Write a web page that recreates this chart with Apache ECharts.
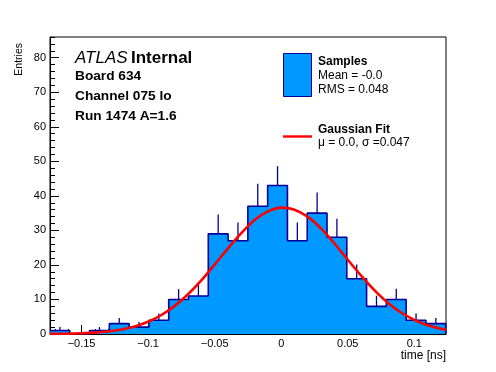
<!DOCTYPE html>
<html><head><meta charset="utf-8">
<script src="https://cdn.jsdelivr.net/npm/echarts@6/dist/echarts.min.js"></script>
<style>html,body{margin:0;padding:0;background:#fff}#c{width:496px;height:372px}</style>
</head><body><div id="c"></div>
<script>
// ---- data ----
const binLow = -0.1737;
const binWidth = 0.014865;
const counts = [1, 0, 1, 3, 2, 4, 10, 11, 29, 27, 37, 43, 27, 35, 28, 16, 8, 10, 4, 3];
const errUp  = [1.0, 0, 1.0, 1.6, 1.5, 1.9, 3.0, 3.3, 5.6, 5.3, 6.5, 5.6, 5.3, 6.0, 5.4, 4.1, 3.1, 3.1, 1.9, 1.6];
const fitX = [-0.1737, -0.17, -0.16, -0.15, -0.14, -0.13, -0.12, -0.11, -0.10, -0.09, -0.08, -0.07, -0.06, -0.05, -0.04, -0.03, -0.02, -0.01, 0,
              0.01, 0.02, 0.03, 0.04, 0.05, 0.06, 0.07, 0.08, 0.09, 0.10, 0.11, 0.12, 0.1238];
const fitY = [0.04, 0.05, 0.10, 0.20, 0.39, 0.73, 1.30, 2.20, 3.55, 5.50, 8.14, 11.5, 15.5, 20.1, 24.8, 29.2, 33.0, 35.5, 36.6,
              36.0, 33.9, 30.5, 26.2, 21.5, 16.9, 12.7, 9.07, 6.22, 4.07, 2.55, 1.53, 1.24];
const xMajorTicks = [-0.15, -0.1, -0.05, 0, 0.05, 0.1];
const xMinorTicks = [-0.17, -0.16, -0.15, -0.14, -0.13, -0.12, -0.11, -0.10, -0.09, -0.08, -0.07, -0.06, -0.05, -0.04, -0.03, -0.02, -0.01, 0,
                     0.01, 0.02, 0.03, 0.04, 0.05, 0.06, 0.07, 0.08, 0.09, 0.10, 0.11, 0.12];
const yMajorTicks = [0, 10, 20, 30, 40, 50, 60, 70, 80];
const yMinorTicks = [0, 2, 4, 6, 8, 10, 12, 14, 16, 18, 20, 22, 24, 26, 28, 30, 32, 34, 36, 38, 40, 42, 44, 46, 48, 50,
                     52, 54, 56, 58, 60, 62, 64, 66, 68, 70, 72, 74, 76, 78, 80, 82, 84, 86];
const xMin = -0.1737, xMax = 0.1238, yMin = 0, yMax = 86;

// ---- build ----
const FONT = '"Liberation Sans", Arial, Helvetica, sans-serif';
const FILL = '#0099ff', EDGE = '#000099';
const stepData = counts.map((c, i) => [binLow + i * binWidth, c]);
stepData.push([binLow + counts.length * binWidth, 0]);
const errData = [];
counts.forEach((c, i) => { if (c > 0) errData.push([binLow + (i + 0.5) * binWidth, c, c + errUp[i]]); });
const fitData = fitX.map((x, i) => [x, fitY[i]]);
const fmtX = v => v === 0 ? '0' : (v < 0 ? '\u2212' : '') + String(Math.abs(v));

const chart = echarts.init(document.getElementById('c'), null, {renderer: 'canvas'});
chart.setOption({
  animation: false,
  backgroundColor: '#fff',
  grid: {left: 50, right: 50, top: 37, bottom: 38, show: true, borderColor: '#000', borderWidth: 1, backgroundColor: 'transparent'},
  xAxis: [
    {type: 'value', min: xMin, max: xMax, position: 'bottom',
     axisLine: {show: true, onZero: false, lineStyle: {color: '#000', width: 1}},
     axisTick: {show: true, inside: true, length: 9, customValues: xMajorTicks, lineStyle: {color: '#000'}},
     axisLabel: {show: true, customValues: xMajorTicks, formatter: fmtX, color: '#000', fontSize: 11, fontFamily: FONT, margin: 4},
     splitLine: {show: false}},
    {type: 'value', min: xMin, max: xMax, position: 'bottom',
     axisLine: {show: false, onZero: false},
     axisTick: {show: true, inside: true, length: 5, customValues: xMinorTicks, lineStyle: {color: '#000'}},
     axisLabel: {show: false}, splitLine: {show: false}}
  ],
  yAxis: [
    {type: 'value', min: yMin, max: yMax, position: 'left',
     axisLine: {show: true, onZero: false, lineStyle: {color: '#000', width: 1}},
     axisTick: {show: true, inside: true, length: 9, customValues: yMajorTicks, lineStyle: {color: '#000'}},
     axisLabel: {show: true, customValues: yMajorTicks, color: '#000', fontSize: 11, fontFamily: FONT, margin: 4},
     splitLine: {show: false}},
    {type: 'value', min: yMin, max: yMax, position: 'left',
     axisLine: {show: false, onZero: false},
     axisTick: {show: true, inside: true, length: 5, customValues: yMinorTicks, lineStyle: {color: '#000'}},
     axisLabel: {show: false}, splitLine: {show: false}}
  ],
  series: [
    {name: 'Samples', type: 'line', xAxisIndex: 0, yAxisIndex: 0, step: 'end', data: stepData,
     showSymbol: false, symbol: 'none', z: 2,
     lineStyle: {color: EDGE, width: 1.6}, areaStyle: {color: FILL, opacity: 1, origin: 'start'}},
    {name: 'errors', type: 'custom', xAxisIndex: 0, yAxisIndex: 0, data: errData, z: 3,
     renderItem: (params, api) => {
       const p1 = api.coord([api.value(0), api.value(1)]);
       const p2 = api.coord([api.value(0), api.value(2)]);
       return {type: 'line', shape: {x1: p1[0], y1: p1[1], x2: p2[0], y2: p2[1]}, style: {stroke: EDGE, lineWidth: 1.3}};
     }},
    {name: 'Gaussian Fit', type: 'line', xAxisIndex: 0, yAxisIndex: 0, data: fitData, smooth: 0.3,
     showSymbol: false, symbol: 'none', z: 4, lineStyle: {color: '#ff0000', width: 2.6}}
  ],
  graphic: [
    {type: 'text', x: 19.5, y: 43, rotation: Math.PI / 2,
     style: {text: 'Entries', align: 'right', verticalAlign: 'middle', fill: '#000', font: '10.5px ' + FONT}},
    {type: 'text', x: 446, y: 355.5,
     style: {text: 'time [ns]', align: 'right', verticalAlign: 'middle', fill: '#000', font: '12px ' + FONT}},
    {type: 'text', x: 75, y: 58.5,
     style: {text: '{a|ATLAS} {b|Internal}', verticalAlign: 'middle', fill: '#000',
       rich: {a: {fontStyle: 'italic', fontSize: 17, fontFamily: FONT, fill: '#000'},
              b: {fontWeight: 'bold', fontSize: 17, fontFamily: FONT, fill: '#000'}}}},
    {type: 'text', x: 75, y: 76, style: {text: 'Board 634', verticalAlign: 'middle', fill: '#000', font: 'bold 13.7px ' + FONT}},
    {type: 'text', x: 75, y: 96, style: {text: 'Channel 075 lo', verticalAlign: 'middle', fill: '#000', font: 'bold 13.7px ' + FONT}},
    {type: 'text', x: 75, y: 116, style: {text: 'Run 1474 A=1.6', verticalAlign: 'middle', fill: '#000', font: 'bold 13.7px ' + FONT}},
    {type: 'rect', shape: {x: 283.5, y: 53.5, width: 28, height: 43}, style: {fill: FILL, stroke: EDGE, lineWidth: 1}},
    {type: 'text', x: 318, y: 61.5, style: {text: 'Samples', verticalAlign: 'middle', fill: '#000', font: 'bold 12px ' + FONT}},
    {type: 'text', x: 318, y: 75.5, style: {text: 'Mean = -0.0', verticalAlign: 'middle', fill: '#000', font: '12px ' + FONT}},
    {type: 'text', x: 318, y: 89.5, style: {text: 'RMS = 0.048', verticalAlign: 'middle', fill: '#000', font: '12px ' + FONT}},
    {type: 'line', shape: {x1: 283, y1: 136.5, x2: 312, y2: 136.5}, style: {stroke: '#ff0000', lineWidth: 2.4}},
    {type: 'text', x: 318, y: 129.5, style: {text: 'Gaussian Fit', verticalAlign: 'middle', fill: '#000', font: 'bold 12px ' + FONT}},
    {type: 'text', x: 318, y: 142.5, style: {text: '\u03bc = 0.0, \u03c3 =0.047', verticalAlign: 'middle', fill: '#000', font: '12px ' + FONT}}
  ]
});
</script>
</body></html>
